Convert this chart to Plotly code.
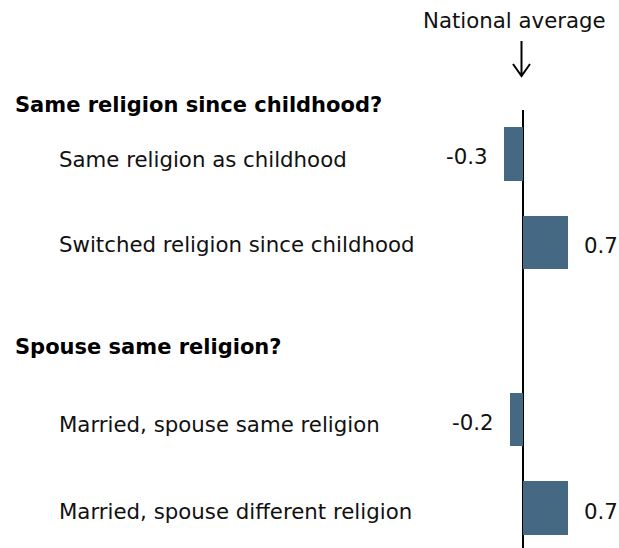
import plotly.graph_objects as go

# Groups of questions, each with its answer rows and their deviation from the national average
group_titles = ["Same religion since childhood?", "Spouse same religion?"]
group_labels = [
    ["Same religion as childhood", "Switched religion since childhood"],
    ["Married, spouse same religion", "Married, spouse different religion"],
]
group_values = [
    [-0.3, 0.7],
    [-0.2, 0.7],
]

W, H = 619, 548
TOP = 110          # plot area starts below the header
BAR_COLOR = "#466983"
FONT = "DejaVu Sans, Verdana, sans-serif"
FS = 21.3

# Row positions: one blank row between groups
rows, labels, values = [], [], []
r = 0
for labs, vals in zip(group_labels, group_values):
    for lab, v in zip(labs, vals):
        rows.append(r)
        labels.append(lab)
        values.append(v)
        r += 1
    r += 1

# vertical pixel position of each group heading
heading_px = [105, 347]
# small downward nudge of each row label, pixels
label_nudge = [-6, -2, -5, -3]

fig = go.Figure(
    go.Bar(
        x=values,
        y=rows,
        orientation="h",
        width=0.61,
        marker=dict(color=BAR_COLOR, line=dict(width=0)),
        hoverinfo="skip",
    )
)

x0_px, unit_px = 523, 64.0
x_range = [-x0_px / unit_px, (W - x0_px) / unit_px]


def px_x(px):
    return px / W


def px_y(py):
    return (H - py) / (H - TOP)


annotations = []
for yr, lab, v, nud in zip(rows, labels, values, label_nudge):
    annotations.append(dict(
        x=px_x(57), xref="paper", y=yr, yref="y", text=lab, showarrow=False,
        xanchor="left", yanchor="middle", yshift=nud,
        font=dict(size=FS, color="#111111", family=FONT),
    ))
    annotations.append(dict(
        x=v, xref="x", y=yr, yref="y", text=f"{v:.1f}", showarrow=False,
        xanchor="left" if v >= 0 else "right", xshift=14 if v >= 0 else -14,
        yanchor="middle", yshift=-3,
        font=dict(size=FS, color="#111111", family=FONT),
    ))
for hp, title in zip(heading_px, group_titles):
    annotations.append(dict(
        x=px_x(13), xref="paper", y=px_y(hp), yref="paper", text=f"<b>{title}</b>",
        showarrow=False, xanchor="left", yanchor="middle",
        font=dict(size=21, color="#000000", family=FONT),
    ))
annotations.append(dict(
    x=px_x(514.5), xref="paper", y=px_y(20), yref="paper", text="National average",
    showarrow=False, xanchor="center", yanchor="middle",
    font=dict(size=FS, color="#111111", family=FONT),
))

# Down arrow pointing at the zero line
ax = px_x(521.5)
arrow_path = (
    f"M {ax} {px_y(41)} L {ax} {px_y(76)} "
    f"M {px_x(513)} {px_y(64)} L {ax} {px_y(76)} L {px_x(530)} {px_y(64)}"
)

fig.update_layout(
    width=W, height=H,
    margin=dict(l=0, r=0, t=TOP, b=0, pad=0),
    paper_bgcolor="white", plot_bgcolor="white",
    showlegend=False,
    bargap=0,
    xaxis=dict(range=x_range, showgrid=False, showticklabels=False, ticks="",
               zeroline=True, zerolinecolor="#000000", zerolinewidth=2, fixedrange=True),
    yaxis=dict(range=[4.452, -0.497], showgrid=False, showticklabels=False, ticks="",
               zeroline=False, fixedrange=True),
    annotations=annotations,
    shapes=[dict(type="path", xref="paper", yref="paper", path=arrow_path,
                 line=dict(color="#000000", width=2))],
)

fig.write_html("out.html")
